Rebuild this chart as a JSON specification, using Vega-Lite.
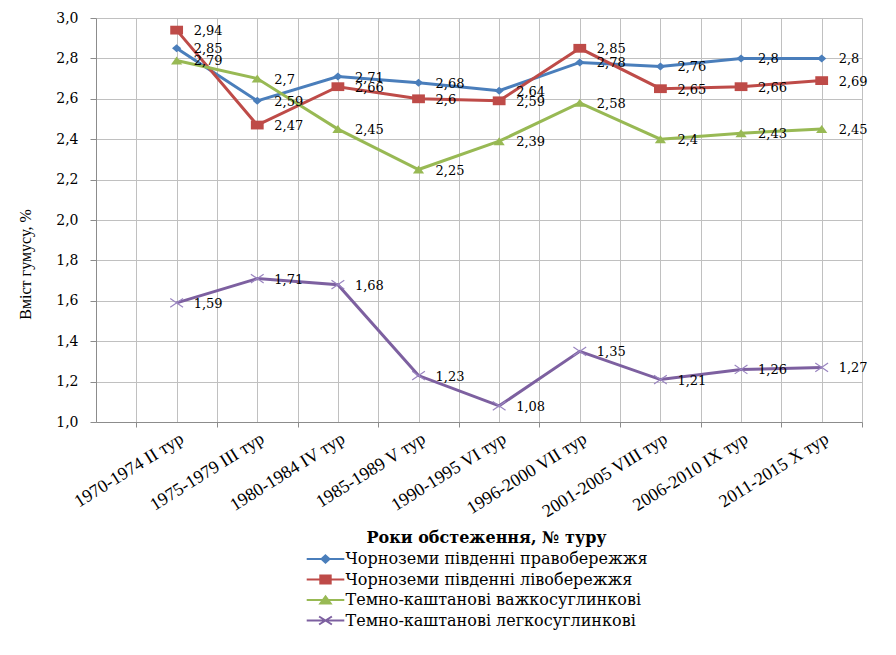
{
  "$schema": "https://vega.github.io/schema/vega-lite/v6.json",
  "width": 766,
  "height": 404,
  "autosize": {"type": "none"},
  "padding": {"left": 96, "top": 18, "right": 34, "bottom": 233},
  "background": "white",
  "config": {
    "locale": {"number": {"decimal": ",", "thousands": " ", "grouping": [3], "currency": ["", ""]}},
    "view": {"stroke": null},
    "axis": {"gridColor": "#C0C0C0", "gridWidth": 1, "domainColor": "#8C8C8C", "tickColor": "#8C8C8C", "labelColor": "#000000", "titleColor": "#000000"}
  },
  "data": {
    "values": [
      {"soil": "Чорноземи південні правобережжя", "tour": 2, "period": "1970-1974", "humus": 2.85},
      {"soil": "Чорноземи південні правобережжя", "tour": 3, "period": "1975-1979", "humus": 2.59},
      {"soil": "Чорноземи південні правобережжя", "tour": 4, "period": "1980-1984", "humus": 2.71},
      {"soil": "Чорноземи південні правобережжя", "tour": 5, "period": "1985-1989", "humus": 2.68},
      {"soil": "Чорноземи південні правобережжя", "tour": 6, "period": "1990-1995", "humus": 2.64},
      {"soil": "Чорноземи південні правобережжя", "tour": 7, "period": "1996-2000", "humus": 2.78},
      {"soil": "Чорноземи південні правобережжя", "tour": 8, "period": "2001-2005", "humus": 2.76},
      {"soil": "Чорноземи південні правобережжя", "tour": 9, "period": "2006-2010", "humus": 2.8},
      {"soil": "Чорноземи південні правобережжя", "tour": 10, "period": "2011-2015", "humus": 2.8},
      {"soil": "Чорноземи південні лівобережжя", "tour": 2, "period": "1970-1974", "humus": 2.94},
      {"soil": "Чорноземи південні лівобережжя", "tour": 3, "period": "1975-1979", "humus": 2.47},
      {"soil": "Чорноземи південні лівобережжя", "tour": 4, "period": "1980-1984", "humus": 2.66},
      {"soil": "Чорноземи південні лівобережжя", "tour": 5, "period": "1985-1989", "humus": 2.6},
      {"soil": "Чорноземи південні лівобережжя", "tour": 6, "period": "1990-1995", "humus": 2.59},
      {"soil": "Чорноземи південні лівобережжя", "tour": 7, "period": "1996-2000", "humus": 2.85},
      {"soil": "Чорноземи південні лівобережжя", "tour": 8, "period": "2001-2005", "humus": 2.65},
      {"soil": "Чорноземи південні лівобережжя", "tour": 9, "period": "2006-2010", "humus": 2.66},
      {"soil": "Чорноземи південні лівобережжя", "tour": 10, "period": "2011-2015", "humus": 2.69},
      {"soil": "Темно-каштанові важкосуглинкові", "tour": 2, "period": "1970-1974", "humus": 2.79},
      {"soil": "Темно-каштанові важкосуглинкові", "tour": 3, "period": "1975-1979", "humus": 2.7},
      {"soil": "Темно-каштанові важкосуглинкові", "tour": 4, "period": "1980-1984", "humus": 2.45},
      {"soil": "Темно-каштанові важкосуглинкові", "tour": 5, "period": "1985-1989", "humus": 2.25},
      {"soil": "Темно-каштанові важкосуглинкові", "tour": 6, "period": "1990-1995", "humus": 2.39},
      {"soil": "Темно-каштанові важкосуглинкові", "tour": 7, "period": "1996-2000", "humus": 2.58},
      {"soil": "Темно-каштанові важкосуглинкові", "tour": 8, "period": "2001-2005", "humus": 2.4},
      {"soil": "Темно-каштанові важкосуглинкові", "tour": 9, "period": "2006-2010", "humus": 2.43},
      {"soil": "Темно-каштанові важкосуглинкові", "tour": 10, "period": "2011-2015", "humus": 2.45},
      {"soil": "Темно-каштанові легкосуглинкові", "tour": 2, "period": "1970-1974", "humus": 1.59},
      {"soil": "Темно-каштанові легкосуглинкові", "tour": 3, "period": "1975-1979", "humus": 1.71},
      {"soil": "Темно-каштанові легкосуглинкові", "tour": 4, "period": "1980-1984", "humus": 1.68},
      {"soil": "Темно-каштанові легкосуглинкові", "tour": 5, "period": "1985-1989", "humus": 1.23},
      {"soil": "Темно-каштанові легкосуглинкові", "tour": 6, "period": "1990-1995", "humus": 1.08},
      {"soil": "Темно-каштанові легкосуглинкові", "tour": 7, "period": "1996-2000", "humus": 1.35},
      {"soil": "Темно-каштанові легкосуглинкові", "tour": 8, "period": "2001-2005", "humus": 1.21},
      {"soil": "Темно-каштанові легкосуглинкові", "tour": 9, "period": "2006-2010", "humus": 1.26},
      {"soil": "Темно-каштанові легкосуглинкові", "tour": 10, "period": "2011-2015", "humus": 1.27}
    ]
  },
  "encoding": {
    "x": {
      "field": "tour",
      "type": "quantitative",
      "scale": {"domain": [1, 10.5], "nice": false, "zero": false},
      "axis": {
        "values": [1.5, 2, 2.5, 3, 3.5, 4, 4.5, 5, 5.5, 6, 6.5, 7, 7.5, 8, 8.5, 9, 9.5, 10, 10.5],
        "grid": true,
        "tickSize": 5,
        "tickOpacity": {"condition": {"test": "datum.value % 1 === 0", "value": 0}, "value": 1},
        "labelExpr": "datum.value % 1 === 0 ? ['', '', '1970-1974 II тур', '1975-1979 III тур', '1980-1984 IV тур', '1985-1989 V тур', '1990-1995 VI тур', '1996-2000 VII тур', '2001-2005 VIII тур', '2006-2010 IX тур', '2011-2015 X тур'][datum.value] : ''",
        "labelAngle": -32,
        "labelAlign": "right",
        "labelBaseline": "middle",
        "labelPadding": 10,
        "labelOffset": 5,
        "labelFont": "Liberation Serif",
        "labelFontSize": 18,
        "labelOverlap": false,
        "labelBound": false,
        "labelFlush": false,
        "labelLimit": 300,
        "title": "Роки обстеження, № туру",
        "titleFont": "DejaVu Serif",
        "titleFontSize": 16,
        "titleFontWeight": "bold",
        "titleX": 390,
        "titleY": 115,
        "titleAlign": "center",
        "titleBaseline": "middle"
      }
    },
    "y": {
      "field": "humus",
      "type": "quantitative",
      "scale": {"domain": [1, 3], "nice": false, "zero": false},
      "axis": {
        "values": [1, 1.2, 1.4, 1.6, 1.8, 2, 2.2, 2.4, 2.6, 2.8, 3],
        "format": ".1f",
        "grid": true,
        "tickSize": 6,
        "labelPadding": 12,
        "labelFont": "DejaVu Serif",
        "labelFontSize": 14,
        "title": "Вміст гумусу, %",
        "titleFont": "Liberation Serif",
        "titleFontSize": 16,
        "titleFontWeight": "normal",
        "titleAngle": -90,
        "titleX": -71,
        "titleY": 246,
        "titleAlign": "center",
        "titleBaseline": "middle"
      }
    }
  },
  "layer": [
    {
      "mark": {"type": "line", "strokeWidth": 3},
      "encoding": {
        "color": {
          "field": "soil",
          "type": "nominal",
          "sort": null,
          "scale": {
            "domain": ["Чорноземи південні правобережжя", "Чорноземи південні лівобережжя", "Темно-каштанові важкосуглинкові", "Темно-каштанові легкосуглинкові"],
            "range": ["#4A7EBB", "#BE4B48", "#98B954", "#7D60A0"]
          },
          "legend": {
            "orient": "none",
            "legendX": 221.5,
            "legendY": 533,
            "title": null,
            "direction": "vertical",
            "padding": 0,
            "labelFont": "DejaVu Serif",
            "labelFontSize": 16,
            "labelColor": "#000000",
            "labelLimit": 500,
            "labelOffset": 12,
            "rowPadding": 4.5,
            "symbolSize": 64,
            "symbolStrokeWidth": 2,
            "encode": {
              "symbols": {
                "update": {
                  "shape": {"signal": "datum.value === 'Чорноземи південні правобережжя' ? 'M-4.7,0L4.7,0M0,-0.9L1,0L0,0.9L-1,0Z' : datum.value === 'Чорноземи південні лівобережжя' ? 'M-4.7,0L4.7,0M-1.3,-1L1.3,-1L1.3,1L-1.3,1Z' : datum.value === 'Темно-каштанові важкосуглинкові' ? 'M-4.7,0L4.7,0M0,-0.9L1.3,0.9L-1.3,0.9Z' : 'M-4.7,0L4.7,0M-1.6,-1L1.6,1M-1.6,1L1.6,-1'"},
                  "fill": {"scale": "color", "field": "value"},
                  "stroke": {"scale": "color", "field": "value"},
                  "strokeWidth": {"value": 2},
                  "opacity": {"value": 1}
                }
              }
            }
          }
        }
      }
    },
    {
      "transform": [{"filter": {"field": "soil", "equal": "Чорноземи південні правобережжя"}}],
      "mark": {"type": "point", "filled": true, "opacity": 1, "size": 64, "shape": "M0,-1L1.15,0L0,1L-1.15,0Z", "color": "#4A7EBB"}
    },
    {
      "transform": [{"filter": {"field": "soil", "equal": "Чорноземи південні лівобережжя"}}],
      "mark": {"type": "point", "filled": true, "opacity": 1, "size": 64, "shape": "M-1.6,-1.1L1.6,-1.1L1.6,1.1L-1.6,1.1Z", "color": "#BE4B48"}
    },
    {
      "transform": [{"filter": {"field": "soil", "equal": "Темно-каштанові важкосуглинкові"}}],
      "mark": {"type": "point", "filled": true, "opacity": 1, "size": 64, "shape": "M0,-1L1.4,1L-1.4,1Z", "color": "#98B954"}
    },
    {
      "transform": [{"filter": {"field": "soil", "equal": "Темно-каштанові легкосуглинкові"}}],
      "mark": {"type": "point", "filled": false, "opacity": 1, "size": 64, "strokeWidth": 1.2, "shape": "M-1.6,-1.1L1.6,1.1M-1.6,1.1L1.6,-1.1", "color": "#9A85C0"}
    },
    {
      "mark": {"type": "text", "align": "left", "baseline": "middle", "dx": 17, "dy": 1, "font": "DejaVu Serif", "fontSize": 13, "fill": "#000000"},
      "encoding": {
        "text": {"field": "humus", "type": "quantitative", "format": ".3~g"}
      }
    }
  ]
}
